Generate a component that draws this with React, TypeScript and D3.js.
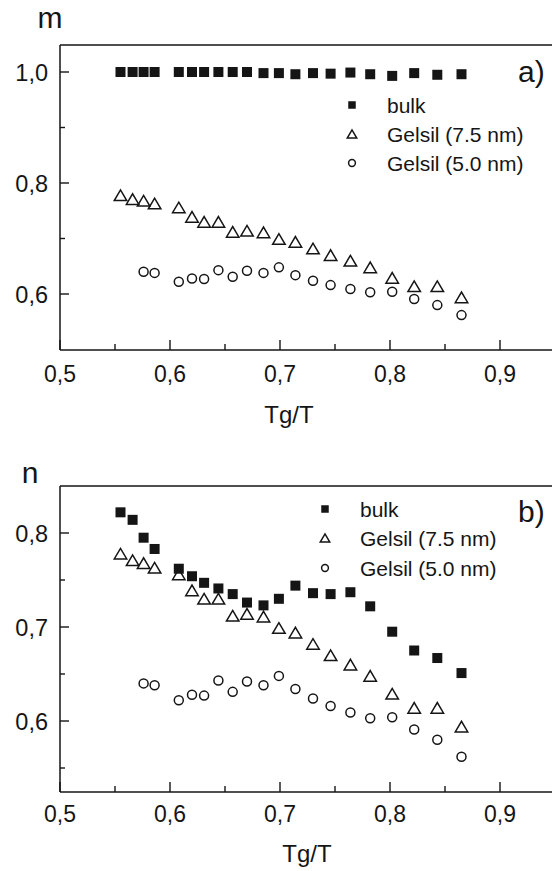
import React from "react";
import * as d3 from "d3";

const xValues = [0.555, 0.566, 0.576, 0.586, 0.608, 0.620, 0.631, 0.644, 0.657, 0.670, 0.685, 0.699, 0.714, 0.730, 0.746, 0.764, 0.782, 0.802, 0.822, 0.843, 0.865];
const bulkM = [1.0, 1.0, 1.0, 1.0, 1.0, 1.0, 1.0, 1.0, 1.0, 1.0, 0.998, 0.998, 0.996, 0.998, 0.997, 0.999, 0.996, 0.993, 0.998, 0.995, 0.996];
const bulkN = [0.822, 0.814, 0.795, 0.783, 0.762, 0.754, 0.747, 0.741, 0.735, 0.726, 0.723, 0.730, 0.744, 0.736, 0.735, 0.737, 0.722, 0.695, 0.675, 0.667, 0.651];
const gelsil75 = [0.778, 0.771, 0.768, 0.763, 0.756, 0.739, 0.730, 0.730, 0.712, 0.714, 0.711, 0.699, 0.694, 0.682, 0.670, 0.660, 0.648, 0.629, 0.614, 0.614, 0.594];
const gelsil50X = xValues.slice(2);
const gelsil50 = [0.640, 0.638, 0.622, 0.628, 0.627, 0.643, 0.631, 0.642, 0.638, 0.648, 0.634, 0.624, 0.616, 0.609, 0.603, 0.604, 0.591, 0.580, 0.562];

const legendLabels = ["bulk", "Gelsil (7.5 nm)", "Gelsil (5.0 nm)"];
const xMajorTicks = [0.5, 0.6, 0.7, 0.8, 0.9];
const xMinorTicks = [0.55, 0.65, 0.75, 0.85];
const topMajorTicks = [0.6, 0.8, 1.0];
const topMinorTicks = [0.7, 0.9];
const botMajorTicks = [0.6, 0.7, 0.8];
const botMinorTicks = [0.55, 0.65, 0.75];

const FONT = "'Liberation Sans', Arial, Helvetica, sans-serif";
const INK = "#151515";

const fmt = (v: number) => v.toFixed(1).replace(".", ",");

const x = d3.scaleLinear().domain([0.5, 0.95]).range([60, 555]);

function Square({ cx, cy, s }: { cx: number; cy: number; s: number }) {
  return <rect x={cx - s / 2} y={cy - s / 2} width={s} height={s} fill={INK} />;
}
function Tri({ cx, cy, w }: { cx: number; cy: number; w: number }) {
  const h = w * 0.85;
  const p = [[cx - w / 2, cy + h / 2], [cx + w / 2, cy + h / 2], [cx, cy - h / 2]];
  return <polygon points={p.map(q => q.join(",")).join(" ")} fill="none" stroke={INK} strokeWidth={1.5} strokeLinejoin="miter" />;
}
function Circ({ cx, cy, r }: { cx: number; cy: number; r: number }) {
  return <circle cx={cx} cy={cy} r={r} fill="none" stroke={INK} strokeWidth={1.5} />;
}

type PanelProps = {
  y: d3.ScaleLinear<number, number>;
  top: number;
  bottom: number;
  bulk: number[];
  majorY: number[];
  minorY: number[];
  yLabel: string;
  yLabelPos: [number, number];
  tag: string;
  tagPos: [number, number];
  legX: number;
  legRows: number[];
  xLabelPos: [number, number];
  tickBaseline: number;
};

function Panel(p: PanelProps) {
  const { y } = p;
  return (
    <g>
      <line x1={60} x2={552} y1={p.top} y2={p.top} stroke={INK} strokeWidth={1.3} />
      <line x1={60} x2={60} y1={p.top} y2={p.bottom} stroke={INK} strokeWidth={1.5} />
      <line x1={60} x2={552} y1={p.bottom} y2={p.bottom} stroke={INK} strokeWidth={1.5} />
      {xMajorTicks.map(t => (
        <g key={"xM" + t}>
          <line x1={x(t)} x2={x(t)} y1={p.bottom} y2={p.bottom - 10} stroke={INK} strokeWidth={1.4} />
          <text x={x(t)} y={p.tickBaseline} textAnchor="middle" fontSize={23} fontFamily={FONT} fill={INK}>{fmt(t)}</text>
        </g>
      ))}
      {xMinorTicks.map(t => (
        <line key={"xm" + t} x1={x(t)} x2={x(t)} y1={p.bottom} y2={p.bottom - 6} stroke={INK} strokeWidth={1.4} />
      ))}
      {p.majorY.map(t => (
        <g key={"yM" + t}>
          <line x1={60} x2={69} y1={y(t)} y2={y(t)} stroke={INK} strokeWidth={1.4} />
          <text x={48} y={y(t) + 8.5} textAnchor="end" fontSize={23.5} fontFamily={FONT} fill={INK}>{fmt(t)}</text>
        </g>
      ))}
      {p.minorY.map(t => (
        <line key={"ym" + t} x1={60} x2={65} y1={y(t)} y2={y(t)} stroke={INK} strokeWidth={1.4} />
      ))}
      <text x={p.yLabelPos[0]} y={p.yLabelPos[1]} textAnchor="middle" fontSize={30} fontFamily={FONT} fill={INK}>{p.yLabel}</text>
      <text x={p.tagPos[0]} y={p.tagPos[1]} textAnchor="start" fontSize={30} fontFamily={FONT} fill={INK}>{p.tag}</text>
      <text x={p.xLabelPos[0]} y={p.xLabelPos[1]} textAnchor="middle" fontSize={24} fontFamily={FONT} fill={INK}>Tg/T</text>
      {xValues.map((xv, i) => <Square key={"b" + i} cx={x(xv)} cy={y(p.bulk[i])} s={10} />)}
      {xValues.map((xv, i) => <Tri key={"t" + i} cx={x(xv)} cy={y(gelsil75[i])} w={12.5} />)}
      {gelsil50X.map((xv, i) => <Circ key={"c" + i} cx={x(xv)} cy={y(gelsil50[i])} r={4.5} />)}
      <Square cx={p.legX} cy={p.legRows[0]} s={7.5} />
      <Tri cx={p.legX} cy={p.legRows[1]} w={9.5} />
      <Circ cx={p.legX} cy={p.legRows[2]} r={3.4} />
      {legendLabels.map((l, i) => (
        <text key={l} x={p.legX + 35} y={p.legRows[i] + 7.5} fontSize={21} fontFamily={FONT} fill={INK}>{l}</text>
      ))}
    </g>
  );
}

export default function App() {
  const yTop = d3.scaleLinear().domain([0.5, 1.05]).range([349.5, 44.25]);
  const yBot = d3.scaleLinear().domain([0.525, 0.85]).range([791.5, 486]);
  return (
    <svg width={552} height={871} style={{ position: "absolute", left: 0, top: 0, background: "#fff" }}>
      <rect width={552} height={871} fill="#fff" />
      <Panel y={yTop} top={45} bottom={350} bulk={bulkM} majorY={topMajorTicks} minorY={topMinorTicks}
        yLabel="m" yLabelPos={[50, 28]} tag="a)" tagPos={[518, 82]} legX={352} legRows={[105, 134, 163]}
        xLabelPos={[289, 423]} tickBaseline={382} />
      <Panel y={yBot} top={486} bottom={792} bulk={bulkN} majorY={botMajorTicks} minorY={botMinorTicks}
        yLabel="n" yLabelPos={[30, 483]} tag="b)" tagPos={[518, 522]} legX={325} legRows={[509, 538, 568]}
        xLabelPos={[307, 862]} tickBaseline={822} />
    </svg>
  );
}
